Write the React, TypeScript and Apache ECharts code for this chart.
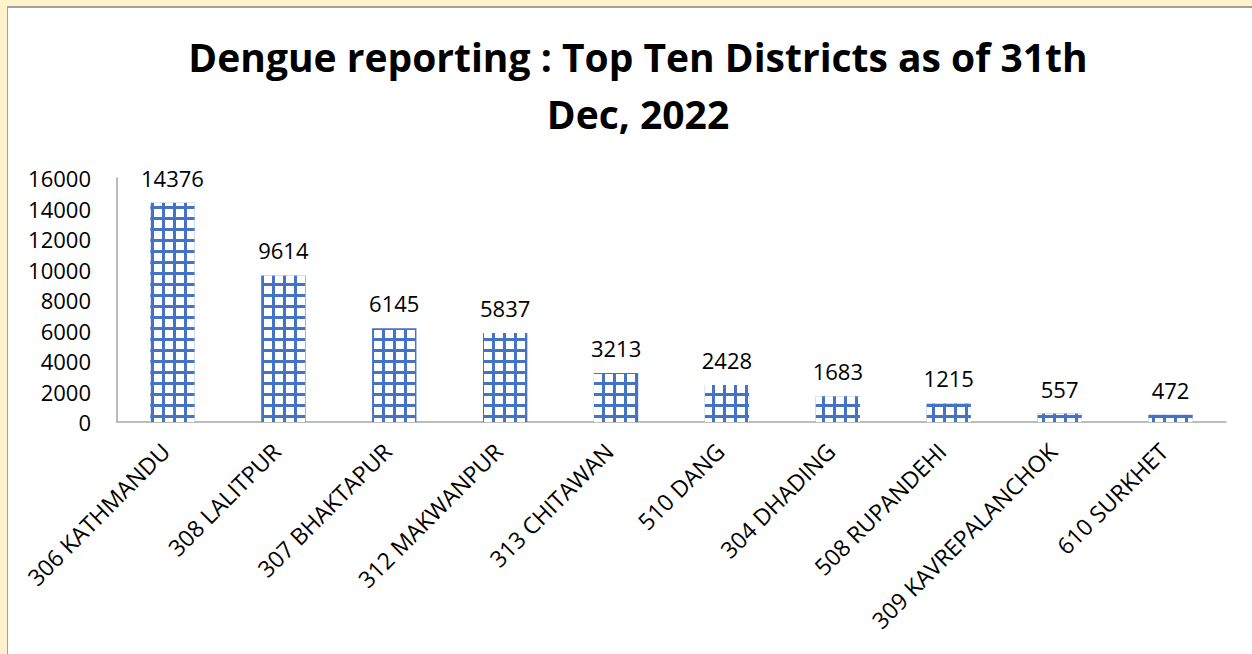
import React, { useEffect, useRef } from "react";
import * as echarts from "echarts";

const titleLines = ["Dengue reporting : Top Ten Districts as of 31th", "Dec, 2022"];
const districts = [
  "306 KATHMANDU",
  "308 LALITPUR",
  "307 BHAKTAPUR",
  "312 MAKWANPUR",
  "313 CHITAWAN",
  "510 DANG",
  "304 DHADING",
  "508 RUPANDEHI",
  "309 KAVREPALANCHOK",
  "610 SURKHET",
];
const cases = [14376, 9614, 6145, 5837, 3213, 2428, 1683, 1215, 557, 472];
const yMin = 0;
const yMax = 16000;
const yStep = 2000;

const FONT = "'Open Sans', sans-serif";

export default function App() {
  const ref = useRef<HTMLDivElement>(null);
  useEffect(() => {
    if (!ref.current) return;
    const chart = echarts.init(ref.current, null, { renderer: "svg" });
    chart.setOption({
      animation: false,
      title: {
        text: titleLines.join("\n"),
        left: 633,
        top: 23,
        textAlign: "center",
        textStyle: {
          fontFamily: FONT,
          fontWeight: "bold",
          fontSize: 39,
          lineHeight: 57,
          color: "#000",
        },
      },
      grid: { left: 117, right: 26, top: 178, bottom: 232, containLabel: false },
      xAxis: {
        type: "category",
        data: districts,
        axisLine: { show: true, lineStyle: { color: "#A6A6A6", width: 1.5 } },
        axisTick: { show: false },
        axisLabel: {
          rotate: 45,
          interval: 0,
          margin: 18,
          padding: [0, 10, 0, 0],
          fontFamily: FONT,
          fontSize: 23,
          color: "#000",
        },
      },
      yAxis: {
        type: "value",
        min: yMin,
        max: yMax,
        interval: yStep,
        splitLine: { show: false },
        axisLine: { show: true, lineStyle: { color: "#A6A6A6", width: 1.5 } },
        axisTick: { show: false },
        axisLabel: {
          margin: 26,
          fontFamily: FONT,
          fontSize: 22,
          color: "#000",
          formatter: (v: number) => String(v),
        },
      },
      series: [
        {
          type: "bar",
          data: cases,
          barWidth: "40%",
          itemStyle: {
            color: "#4472C4",
            decal: {
              symbol: "rect",
              symbolSize: 1,
              color: "#FFFFFF",
              dashArrayX: [8, 3],
              dashArrayY: [8, 3],
              rotation: 0,
            },
          },
          label: {
            show: true,
            position: "top",
            distance: 14,
            fontFamily: FONT,
            fontSize: 22,
            color: "#000",
          },
        },
      ],
    });
    return () => chart.dispose();
  }, []);

  return (
    <div
      style={{
        position: "fixed",
        left: 0,
        top: 0,
        width: 1252,
        height: 654,
        background: "#FFF2CC",
        overflow: "hidden",
      }}
    >
      <div
        style={{
          position: "absolute",
          left: 7,
          top: 6,
          width: 1260,
          height: 660,
          background: "#FFFFFF",
          borderTop: "2px solid #A0A0A0",
          borderLeft: "1px solid #A0A0A0",
        }}
      />
      <div
        ref={ref}
        style={{ position: "absolute", left: 0, top: 0, width: 1252, height: 654 }}
      />
    </div>
  );
}
